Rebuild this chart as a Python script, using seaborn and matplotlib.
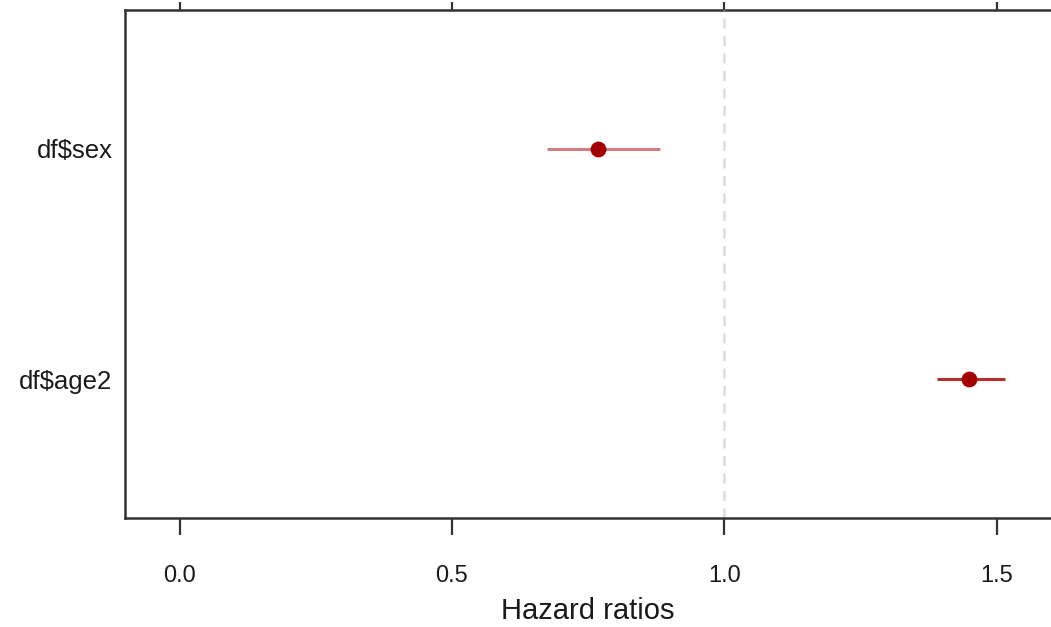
import numpy as np
import pandas as pd
import seaborn as sns
import matplotlib.pyplot as plt

covariates = ["df$sex", "df$age2"]
hazard_ratio = [0.769, 1.450]
ci_lower = [0.675, 1.391]
ci_upper = [0.883, 1.516]
line_alpha = [0.55, 0.9]
xticks = [0.0, 0.5, 1.0, 1.5]

df = pd.DataFrame({"covariate": covariates, "hr": hazard_ratio,
                   "lo": ci_lower, "hi": ci_upper, "alpha": line_alpha})
df["pos"] = np.arange(len(df))

sns.set_style("ticks")
plt.rcParams["font.family"] = ["Liberation Sans", "DejaVu Sans"]
plt.rcParams["text.color"] = "#1a1a1a"
plt.rcParams["xtick.labelcolor"] = "#1a1a1a"
plt.rcParams["ytick.labelcolor"] = "#1a1a1a"
plt.rcParams["axes.labelcolor"] = "#1a1a1a"

fig = plt.figure(figsize=(10.51, 6.27), dpi=100)
ax = fig.add_axes([0.119, 0.174, 0.881, 0.81])

red = "#a30000"
for _, row in df.iterrows():
    ax.hlines(row["pos"], row["lo"], row["hi"], color="#b01515",
              alpha=row["alpha"], linewidth=2.2, zorder=2)
sns.scatterplot(data=df, x="hr", y="pos", color=red, s=130,
                edgecolor=red, linewidth=0, zorder=3, ax=ax)

ax.axvline(1.0, color="#dcdcdc", linestyle=(0, (4, 3)), linewidth=1.8, zorder=1)

ax.set_xlim(-0.1, 1.6)
ax.set_ylim(1.6, -0.6)
ax.set_yticks(df["pos"])
ax.set_yticklabels(df["covariate"])
ax.set_xticks(xticks)
ax.set_xticklabels([f"{t:.1f}" for t in xticks])
ax.tick_params(axis="y", length=0, labelsize=18.5, pad=9)
ax.tick_params(axis="x", length=12, width=1.6, color="#333333",
               labelsize=17, pad=22)
ax.set_xlabel("Hazard ratios", fontsize=21, labelpad=7)
ax.set_ylabel("")

top = ax.secondary_xaxis("top")
top.set_xticks(xticks)
top.set_xticklabels([])
top.tick_params(length=6, width=1.6, color="#333333")

for s in ["left", "bottom"]:
    ax.spines[s].set_linewidth(1.8)
    ax.spines[s].set_color("#333333")
ax.spines["right"].set_visible(False)
ax.spines["top"].set_visible(False)
top.spines["top"].set_linewidth(1.8)
top.spines["top"].set_color("#333333")

fig.savefig("out.png", dpi=100)
